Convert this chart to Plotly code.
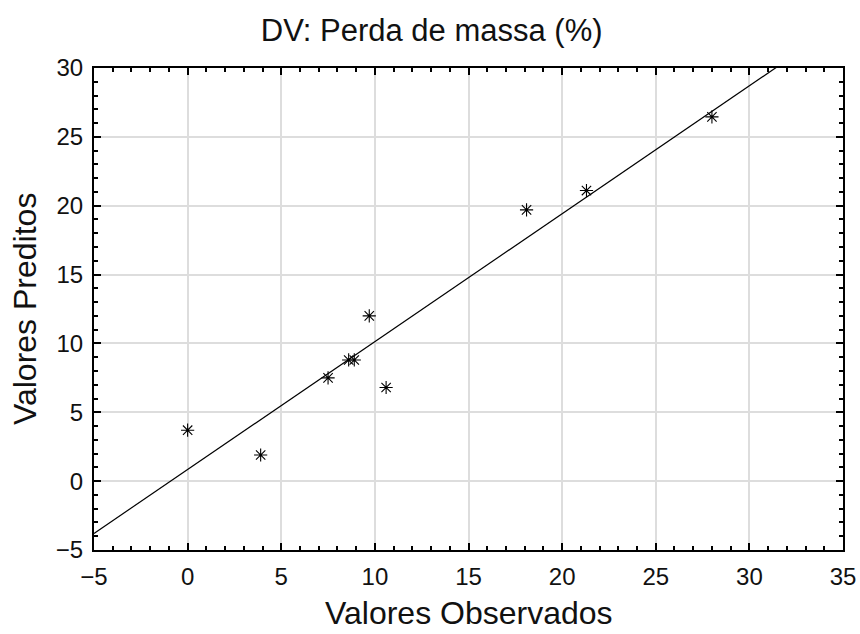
import numpy as np
import plotly.graph_objects as go

# Observed vs. predicted mass loss (%)
observados = [0.0, 3.9, 7.5, 8.6, 8.9, 9.7, 10.6, 18.1, 21.3, 28.0]
preditos = [3.7, 1.9, 7.5, 8.8, 8.8, 12.0, 6.8, 19.7, 21.1, 26.45]

x_range = [-5, 35]
y_range = [-5, 30]

# Least-squares line of predicted on observed
slope, intercept = np.polyfit(observados, preditos, 1)
line_x = np.array(x_range, dtype=float)
line_y = slope * line_x + intercept

font_family = "Liberation Sans, Arial, sans-serif"
text_color = "#111111"

fig = go.Figure()
fig.add_trace(go.Scatter(
    x=line_x, y=line_y, mode="lines",
    line=dict(color="black", width=1.2),
    hoverinfo="skip", showlegend=False,
))
fig.add_trace(go.Scatter(
    x=observados, y=preditos, mode="markers",
    marker=dict(symbol="asterisk-open", size=11, color="black",
                line=dict(color="black", width=1.1)),
    showlegend=False,
))

axis_common = dict(
    showline=True, linecolor="black", linewidth=2, mirror="ticks",
    ticks="inside", ticklen=7, tickwidth=1.5, tickcolor="black",
    showgrid=True, gridcolor="#dddddd", gridwidth=2,
    zeroline=False, dtick=5, automargin=False,
    tickfont=dict(family=font_family, size=24, color=text_color),
    minor=dict(ticks="inside", ticklen=4, tickwidth=1.5, tickcolor="black",
               dtick=1, showgrid=False),
)

fig.update_layout(
    width=860, height=634,
    margin=dict(l=94, r=17, t=68, b=84),
    paper_bgcolor="white", plot_bgcolor="white",
    title=dict(text="DV: Perda de massa (%)", x=0.502, xanchor="center",
               y=0.953, yanchor="middle",
               font=dict(family=font_family, size=31, color=text_color)),
    xaxis=dict(range=x_range, tick0=-5, ticklabelstandoff=4, **axis_common),
    yaxis=dict(range=y_range, tick0=-5, ticklabelstandoff=4, **axis_common),
)

# Axis titles
title_font = dict(family=font_family, size=32, color=text_color)
fig.add_annotation(text="Valores Observados", xref="paper", yref="paper",
                   x=0.5, y=0, xanchor="center", yanchor="middle",
                   yshift=-63, showarrow=False, font=title_font)
fig.add_annotation(text="Valores Preditos", xref="paper", yref="paper",
                   x=0, y=0.5, xanchor="center", yanchor="middle",
                   xshift=-69, textangle=-90, showarrow=False, font=title_font)

fig.write_html("out.html")
